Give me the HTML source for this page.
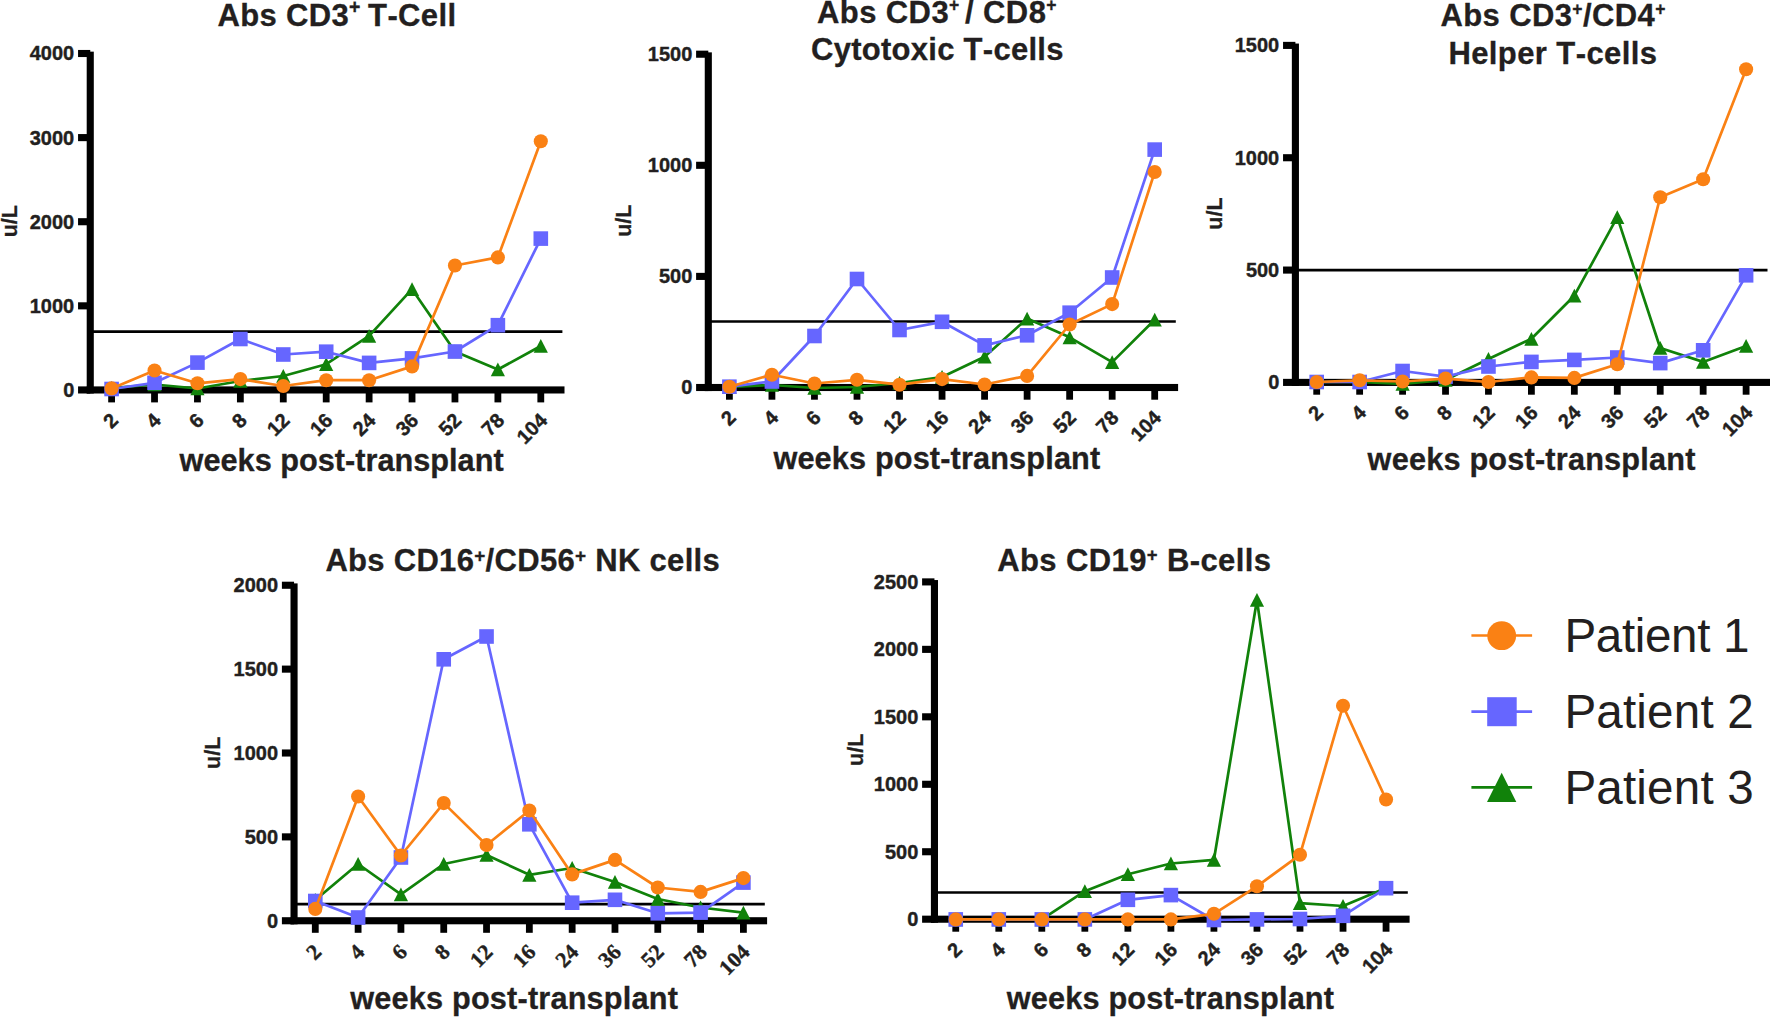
<!DOCTYPE html>
<html lang="en"><head><meta charset="utf-8"><title>Lymphocyte subsets post-transplant</title>
<style>html,body{margin:0;padding:0;background:#fff}svg{display:block}text{font-family:"Liberation Sans",sans-serif;font-kerning:none}.sf text{font-family:"Liberation Serif",serif}</style>
</head><body>
<svg width="1770" height="1017" viewBox="0 0 1770 1017">
<rect width="1770" height="1017" fill="#fff"/>
<g fill="#000">
<rect x="86.7" y="51.65" width="7.1" height="341.85"/>
<rect x="86.7" y="386.4" width="477.8" height="7.1"/>
<rect x="78.05" y="386.4" width="12.2" height="7.1"/>
<rect x="78.05" y="302.29" width="12.2" height="7.1"/>
<rect x="78.05" y="218.17" width="12.2" height="7.1"/>
<rect x="78.05" y="134.06" width="12.2" height="7.1"/>
<rect x="78.05" y="49.95" width="12.2" height="7.1"/>
<rect x="108.2" y="389.95" width="6.8" height="12.45"/>
<rect x="151.12" y="389.95" width="6.8" height="12.45"/>
<rect x="194.04" y="389.95" width="6.8" height="12.45"/>
<rect x="236.96" y="389.95" width="6.8" height="12.45"/>
<rect x="279.88" y="389.95" width="6.8" height="12.45"/>
<rect x="322.8" y="389.95" width="6.8" height="12.45"/>
<rect x="365.72" y="389.95" width="6.8" height="12.45"/>
<rect x="408.64" y="389.95" width="6.8" height="12.45"/>
<rect x="451.56" y="389.95" width="6.8" height="12.45"/>
<rect x="494.48" y="389.95" width="6.8" height="12.45"/>
<rect x="537.4" y="389.95" width="6.8" height="12.45"/>
</g>
<g font-size="20" font-weight="bold" text-anchor="end" fill="#231F20" stroke="#231F20" stroke-width="0.4">
<text x="74.25" y="396.85">0</text>
<text x="74.25" y="312.74">1000</text>
<text x="74.25" y="228.62">2000</text>
<text x="74.25" y="144.51">3000</text>
<text x="74.25" y="60.4">4000</text>
</g>
<g font-size="20" font-weight="bold" text-anchor="end" fill="#231F20" stroke="#231F20" stroke-width="0.4">
<text transform="translate(119.3 421.6) rotate(-45)">2</text>
<text transform="translate(162.22 421.6) rotate(-45)">4</text>
<text transform="translate(205.14 421.6) rotate(-45)">6</text>
<text transform="translate(248.06 421.6) rotate(-45)">8</text>
<text transform="translate(290.98 421.6) rotate(-45)">12</text>
<text transform="translate(333.9 421.6) rotate(-45)">16</text>
<text transform="translate(376.82 421.6) rotate(-45)">24</text>
<text transform="translate(419.74 421.6) rotate(-45)">36</text>
<text transform="translate(462.66 421.6) rotate(-45)">52</text>
<text transform="translate(505.58 421.6) rotate(-45)">78</text>
<text transform="translate(548.5 421.6) rotate(-45)">104</text>
</g>
<text transform="translate(16.7 221.2) rotate(-90)" font-size="21.5" font-weight="bold" text-anchor="middle" fill="#231F20" stroke="#231F20" stroke-width="0.3">u/L</text>
<g>
<line x1="90.25" y1="331.6" x2="562.4" y2="331.6" stroke="#000" stroke-width="2.7"/>
<polyline points="111.6,388 154.52,384.5 197.44,388.5 240.36,381 283.28,376 326.2,364.2 369.12,335.9 412.04,289.2 454.96,351.5 497.88,369.5 540.8,346" fill="none" stroke="#11820A" stroke-width="2.7" stroke-linejoin="round"/>
<polygon points="111.6,381.1 104.5,394.85 118.7,394.85" fill="#11820A"/>
<polygon points="154.52,377.6 147.42,391.35 161.62,391.35" fill="#11820A"/>
<polygon points="197.44,381.6 190.34,395.35 204.54,395.35" fill="#11820A"/>
<polygon points="240.36,374.1 233.26,387.85 247.46,387.85" fill="#11820A"/>
<polygon points="283.28,369.1 276.18,382.85 290.38,382.85" fill="#11820A"/>
<polygon points="326.2,357.3 319.1,371.05 333.3,371.05" fill="#11820A"/>
<polygon points="369.12,329 362.02,342.75 376.22,342.75" fill="#11820A"/>
<polygon points="412.04,282.3 404.94,296.05 419.14,296.05" fill="#11820A"/>
<polygon points="454.96,344.6 447.86,358.35 462.06,358.35" fill="#11820A"/>
<polygon points="497.88,362.6 490.78,376.35 504.98,376.35" fill="#11820A"/>
<polygon points="540.8,339.1 533.7,352.85 547.9,352.85" fill="#11820A"/>
<polyline points="111.6,389 154.52,382.8 197.44,362.6 240.36,339 283.28,354.5 326.2,351.7 369.12,362.9 412.04,358.4 454.96,351.5 497.88,325.2 540.8,238.6" fill="none" stroke="#6666FF" stroke-width="2.7" stroke-linejoin="round"/>
<rect x="104.3" y="381.7" width="14.6" height="14.6" fill="#6666FF"/>
<rect x="147.22" y="375.5" width="14.6" height="14.6" fill="#6666FF"/>
<rect x="190.14" y="355.3" width="14.6" height="14.6" fill="#6666FF"/>
<rect x="233.06" y="331.7" width="14.6" height="14.6" fill="#6666FF"/>
<rect x="275.98" y="347.2" width="14.6" height="14.6" fill="#6666FF"/>
<rect x="318.9" y="344.4" width="14.6" height="14.6" fill="#6666FF"/>
<rect x="361.82" y="355.6" width="14.6" height="14.6" fill="#6666FF"/>
<rect x="404.74" y="351.1" width="14.6" height="14.6" fill="#6666FF"/>
<rect x="447.66" y="344.2" width="14.6" height="14.6" fill="#6666FF"/>
<rect x="490.58" y="317.9" width="14.6" height="14.6" fill="#6666FF"/>
<rect x="533.5" y="231.3" width="14.6" height="14.6" fill="#6666FF"/>
<polyline points="111.6,388.4 154.52,370.5 197.44,383.3 240.36,379.1 283.28,386 326.2,380.2 369.12,380.2 412.04,366.4 454.96,265.5 497.88,257.4 540.8,141.3" fill="none" stroke="#FA8114" stroke-width="2.7" stroke-linejoin="round"/>
<circle cx="111.6" cy="388.4" r="7.05" fill="#FA8114"/>
<circle cx="154.52" cy="370.5" r="7.05" fill="#FA8114"/>
<circle cx="197.44" cy="383.3" r="7.05" fill="#FA8114"/>
<circle cx="240.36" cy="379.1" r="7.05" fill="#FA8114"/>
<circle cx="283.28" cy="386" r="7.05" fill="#FA8114"/>
<circle cx="326.2" cy="380.2" r="7.05" fill="#FA8114"/>
<circle cx="369.12" cy="380.2" r="7.05" fill="#FA8114"/>
<circle cx="412.04" cy="366.4" r="7.05" fill="#FA8114"/>
<circle cx="454.96" cy="265.5" r="7.05" fill="#FA8114"/>
<circle cx="497.88" cy="257.4" r="7.05" fill="#FA8114"/>
<circle cx="540.8" cy="141.3" r="7.05" fill="#FA8114"/>
</g>
<g fill="#000">
<rect x="704.75" y="52.35" width="7.1" height="338.7"/>
<rect x="704.75" y="383.95" width="473.35" height="7.1"/>
<rect x="696.1" y="383.95" width="12.2" height="7.1"/>
<rect x="696.1" y="272.85" width="12.2" height="7.1"/>
<rect x="696.1" y="161.75" width="12.2" height="7.1"/>
<rect x="696.1" y="50.65" width="12.2" height="7.1"/>
<rect x="726" y="387.5" width="6.8" height="12.2"/>
<rect x="768.53" y="387.5" width="6.8" height="12.2"/>
<rect x="811.06" y="387.5" width="6.8" height="12.2"/>
<rect x="853.59" y="387.5" width="6.8" height="12.2"/>
<rect x="896.12" y="387.5" width="6.8" height="12.2"/>
<rect x="938.65" y="387.5" width="6.8" height="12.2"/>
<rect x="981.18" y="387.5" width="6.8" height="12.2"/>
<rect x="1023.71" y="387.5" width="6.8" height="12.2"/>
<rect x="1066.24" y="387.5" width="6.8" height="12.2"/>
<rect x="1108.77" y="387.5" width="6.8" height="12.2"/>
<rect x="1151.3" y="387.5" width="6.8" height="12.2"/>
</g>
<g font-size="20" font-weight="bold" text-anchor="end" fill="#231F20" stroke="#231F20" stroke-width="0.4">
<text x="692.3" y="394.4">0</text>
<text x="692.3" y="283.3">500</text>
<text x="692.3" y="172.2">1000</text>
<text x="692.3" y="61.1">1500</text>
</g>
<g font-size="20" font-weight="bold" text-anchor="end" fill="#231F20" stroke="#231F20" stroke-width="0.4">
<text transform="translate(737.1 418.9) rotate(-45)">2</text>
<text transform="translate(779.63 418.9) rotate(-45)">4</text>
<text transform="translate(822.16 418.9) rotate(-45)">6</text>
<text transform="translate(864.69 418.9) rotate(-45)">8</text>
<text transform="translate(907.22 418.9) rotate(-45)">12</text>
<text transform="translate(949.75 418.9) rotate(-45)">16</text>
<text transform="translate(992.28 418.9) rotate(-45)">24</text>
<text transform="translate(1034.81 418.9) rotate(-45)">36</text>
<text transform="translate(1077.34 418.9) rotate(-45)">52</text>
<text transform="translate(1119.87 418.9) rotate(-45)">78</text>
<text transform="translate(1162.4 418.9) rotate(-45)">104</text>
</g>
<text transform="translate(631.1 220.7) rotate(-90)" font-size="21.5" font-weight="bold" text-anchor="middle" fill="#231F20" stroke="#231F20" stroke-width="0.3">u/L</text>
<g>
<line x1="708.3" y1="321.5" x2="1175.8" y2="321.5" stroke="#000" stroke-width="2.7"/>
<polyline points="729.4,387 771.93,385 814.46,388 856.99,387 899.52,383 942.05,377 984.58,356.7 1027.11,318.6 1069.64,337.3 1112.17,362.1 1154.7,319.7" fill="none" stroke="#11820A" stroke-width="2.7" stroke-linejoin="round"/>
<polygon points="729.4,380.1 722.3,393.85 736.5,393.85" fill="#11820A"/>
<polygon points="771.93,378.1 764.83,391.85 779.03,391.85" fill="#11820A"/>
<polygon points="814.46,381.1 807.36,394.85 821.56,394.85" fill="#11820A"/>
<polygon points="856.99,380.1 849.89,393.85 864.09,393.85" fill="#11820A"/>
<polygon points="899.52,376.1 892.42,389.85 906.62,389.85" fill="#11820A"/>
<polygon points="942.05,370.1 934.95,383.85 949.15,383.85" fill="#11820A"/>
<polygon points="984.58,349.8 977.48,363.55 991.68,363.55" fill="#11820A"/>
<polygon points="1027.11,311.7 1020.01,325.45 1034.21,325.45" fill="#11820A"/>
<polygon points="1069.64,330.4 1062.54,344.15 1076.74,344.15" fill="#11820A"/>
<polygon points="1112.17,355.2 1105.07,368.95 1119.27,368.95" fill="#11820A"/>
<polygon points="1154.7,312.8 1147.6,326.55 1161.8,326.55" fill="#11820A"/>
<polyline points="729.4,386.7 771.93,381.5 814.46,336 856.99,279 899.52,330 942.05,321.8 984.58,345.4 1027.11,335.3 1069.64,312.7 1112.17,277.5 1154.7,149.6" fill="none" stroke="#6666FF" stroke-width="2.7" stroke-linejoin="round"/>
<rect x="722.1" y="379.4" width="14.6" height="14.6" fill="#6666FF"/>
<rect x="764.63" y="374.2" width="14.6" height="14.6" fill="#6666FF"/>
<rect x="807.16" y="328.7" width="14.6" height="14.6" fill="#6666FF"/>
<rect x="849.69" y="271.7" width="14.6" height="14.6" fill="#6666FF"/>
<rect x="892.22" y="322.7" width="14.6" height="14.6" fill="#6666FF"/>
<rect x="934.75" y="314.5" width="14.6" height="14.6" fill="#6666FF"/>
<rect x="977.28" y="338.1" width="14.6" height="14.6" fill="#6666FF"/>
<rect x="1019.81" y="328" width="14.6" height="14.6" fill="#6666FF"/>
<rect x="1062.34" y="305.4" width="14.6" height="14.6" fill="#6666FF"/>
<rect x="1104.87" y="270.2" width="14.6" height="14.6" fill="#6666FF"/>
<rect x="1147.4" y="142.3" width="14.6" height="14.6" fill="#6666FF"/>
<polyline points="729.4,386.7 771.93,374.7 814.46,383.5 856.99,379.8 899.52,384.7 942.05,379.1 984.58,384.5 1027.11,375.9 1069.64,324.5 1112.17,304.1 1154.7,172" fill="none" stroke="#FA8114" stroke-width="2.7" stroke-linejoin="round"/>
<circle cx="729.4" cy="386.7" r="7.05" fill="#FA8114"/>
<circle cx="771.93" cy="374.7" r="7.05" fill="#FA8114"/>
<circle cx="814.46" cy="383.5" r="7.05" fill="#FA8114"/>
<circle cx="856.99" cy="379.8" r="7.05" fill="#FA8114"/>
<circle cx="899.52" cy="384.7" r="7.05" fill="#FA8114"/>
<circle cx="942.05" cy="379.1" r="7.05" fill="#FA8114"/>
<circle cx="984.58" cy="384.5" r="7.05" fill="#FA8114"/>
<circle cx="1027.11" cy="375.9" r="7.05" fill="#FA8114"/>
<circle cx="1069.64" cy="324.5" r="7.05" fill="#FA8114"/>
<circle cx="1112.17" cy="304.1" r="7.05" fill="#FA8114"/>
<circle cx="1154.7" cy="172" r="7.05" fill="#FA8114"/>
</g>
<g fill="#000">
<rect x="1291.85" y="43.55" width="7.1" height="342.4"/>
<rect x="1291.85" y="378.85" width="480.15" height="7.1"/>
<rect x="1283.05" y="378.85" width="12.35" height="7.1"/>
<rect x="1283.05" y="266.52" width="12.35" height="7.1"/>
<rect x="1283.05" y="154.18" width="12.35" height="7.1"/>
<rect x="1283.05" y="41.85" width="12.35" height="7.1"/>
<rect x="1313.3" y="382.4" width="6.8" height="12.3"/>
<rect x="1356.24" y="382.4" width="6.8" height="12.3"/>
<rect x="1399.18" y="382.4" width="6.8" height="12.3"/>
<rect x="1442.12" y="382.4" width="6.8" height="12.3"/>
<rect x="1485.06" y="382.4" width="6.8" height="12.3"/>
<rect x="1528" y="382.4" width="6.8" height="12.3"/>
<rect x="1570.94" y="382.4" width="6.8" height="12.3"/>
<rect x="1613.88" y="382.4" width="6.8" height="12.3"/>
<rect x="1656.82" y="382.4" width="6.8" height="12.3"/>
<rect x="1699.76" y="382.4" width="6.8" height="12.3"/>
<rect x="1742.7" y="382.4" width="6.8" height="12.3"/>
</g>
<g font-size="20" font-weight="bold" text-anchor="end" fill="#231F20" stroke="#231F20" stroke-width="0.4">
<text x="1279.25" y="389.3">0</text>
<text x="1279.25" y="276.97">500</text>
<text x="1279.25" y="164.63">1000</text>
<text x="1279.25" y="52.3">1500</text>
</g>
<g font-size="20" font-weight="bold" text-anchor="end" fill="#231F20" stroke="#231F20" stroke-width="0.4">
<text transform="translate(1324.4 413.9) rotate(-45)">2</text>
<text transform="translate(1367.34 413.9) rotate(-45)">4</text>
<text transform="translate(1410.28 413.9) rotate(-45)">6</text>
<text transform="translate(1453.22 413.9) rotate(-45)">8</text>
<text transform="translate(1496.16 413.9) rotate(-45)">12</text>
<text transform="translate(1539.1 413.9) rotate(-45)">16</text>
<text transform="translate(1582.04 413.9) rotate(-45)">24</text>
<text transform="translate(1624.98 413.9) rotate(-45)">36</text>
<text transform="translate(1667.92 413.9) rotate(-45)">52</text>
<text transform="translate(1710.86 413.9) rotate(-45)">78</text>
<text transform="translate(1753.8 413.9) rotate(-45)">104</text>
</g>
<text transform="translate(1221.8 213.6) rotate(-90)" font-size="21.5" font-weight="bold" text-anchor="middle" fill="#231F20" stroke="#231F20" stroke-width="0.3">u/L</text>
<g>
<line x1="1295.4" y1="270.2" x2="1767.5" y2="270.2" stroke="#000" stroke-width="2.7"/>
<polyline points="1316.7,382 1359.64,382 1402.58,384 1445.52,380 1488.46,359 1531.4,338.8 1574.34,295.7 1617.28,217.2 1660.22,348 1703.16,361.9 1746.1,345.9" fill="none" stroke="#11820A" stroke-width="2.7" stroke-linejoin="round"/>
<polygon points="1316.7,375.1 1309.6,388.85 1323.8,388.85" fill="#11820A"/>
<polygon points="1359.64,375.1 1352.54,388.85 1366.74,388.85" fill="#11820A"/>
<polygon points="1402.58,377.1 1395.48,390.85 1409.68,390.85" fill="#11820A"/>
<polygon points="1445.52,373.1 1438.42,386.85 1452.62,386.85" fill="#11820A"/>
<polygon points="1488.46,352.1 1481.36,365.85 1495.56,365.85" fill="#11820A"/>
<polygon points="1531.4,331.9 1524.3,345.65 1538.5,345.65" fill="#11820A"/>
<polygon points="1574.34,288.8 1567.24,302.55 1581.44,302.55" fill="#11820A"/>
<polygon points="1617.28,210.3 1610.18,224.05 1624.38,224.05" fill="#11820A"/>
<polygon points="1660.22,341.1 1653.12,354.85 1667.32,354.85" fill="#11820A"/>
<polygon points="1703.16,355 1696.06,368.75 1710.26,368.75" fill="#11820A"/>
<polygon points="1746.1,339 1739,352.75 1753.2,352.75" fill="#11820A"/>
<polyline points="1316.7,382 1359.64,382 1402.58,371 1445.52,376.6 1488.46,366.5 1531.4,361.9 1574.34,359.9 1617.28,357.5 1660.22,363.1 1703.16,350.3 1746.1,275.3" fill="none" stroke="#6666FF" stroke-width="2.7" stroke-linejoin="round"/>
<rect x="1309.4" y="374.7" width="14.6" height="14.6" fill="#6666FF"/>
<rect x="1352.34" y="374.7" width="14.6" height="14.6" fill="#6666FF"/>
<rect x="1395.28" y="363.7" width="14.6" height="14.6" fill="#6666FF"/>
<rect x="1438.22" y="369.3" width="14.6" height="14.6" fill="#6666FF"/>
<rect x="1481.16" y="359.2" width="14.6" height="14.6" fill="#6666FF"/>
<rect x="1524.1" y="354.6" width="14.6" height="14.6" fill="#6666FF"/>
<rect x="1567.04" y="352.6" width="14.6" height="14.6" fill="#6666FF"/>
<rect x="1609.98" y="350.2" width="14.6" height="14.6" fill="#6666FF"/>
<rect x="1652.92" y="355.8" width="14.6" height="14.6" fill="#6666FF"/>
<rect x="1695.86" y="343" width="14.6" height="14.6" fill="#6666FF"/>
<rect x="1738.8" y="268" width="14.6" height="14.6" fill="#6666FF"/>
<polyline points="1316.7,382 1359.64,380.3 1402.58,381.5 1445.52,378.6 1488.46,382 1531.4,377.4 1574.34,377.9 1617.28,364.3 1660.22,197.2 1703.16,179.3 1746.1,69.3" fill="none" stroke="#FA8114" stroke-width="2.7" stroke-linejoin="round"/>
<circle cx="1316.7" cy="382" r="7.05" fill="#FA8114"/>
<circle cx="1359.64" cy="380.3" r="7.05" fill="#FA8114"/>
<circle cx="1402.58" cy="381.5" r="7.05" fill="#FA8114"/>
<circle cx="1445.52" cy="378.6" r="7.05" fill="#FA8114"/>
<circle cx="1488.46" cy="382" r="7.05" fill="#FA8114"/>
<circle cx="1531.4" cy="377.4" r="7.05" fill="#FA8114"/>
<circle cx="1574.34" cy="377.9" r="7.05" fill="#FA8114"/>
<circle cx="1617.28" cy="364.3" r="7.05" fill="#FA8114"/>
<circle cx="1660.22" cy="197.2" r="7.05" fill="#FA8114"/>
<circle cx="1703.16" cy="179.3" r="7.05" fill="#FA8114"/>
<circle cx="1746.1" cy="69.3" r="7.05" fill="#FA8114"/>
</g>
<g fill="#000">
<rect x="290.5" y="583.4" width="7.1" height="340.9"/>
<rect x="290.5" y="917.2" width="476.6" height="7.1"/>
<rect x="281.9" y="917.2" width="12.15" height="7.1"/>
<rect x="281.9" y="833.33" width="12.15" height="7.1"/>
<rect x="281.9" y="749.45" width="12.15" height="7.1"/>
<rect x="281.9" y="665.58" width="12.15" height="7.1"/>
<rect x="281.9" y="581.7" width="12.15" height="7.1"/>
<rect x="311.9" y="920.75" width="6.8" height="12.05"/>
<rect x="354.71" y="920.75" width="6.8" height="12.05"/>
<rect x="397.52" y="920.75" width="6.8" height="12.05"/>
<rect x="440.33" y="920.75" width="6.8" height="12.05"/>
<rect x="483.14" y="920.75" width="6.8" height="12.05"/>
<rect x="525.95" y="920.75" width="6.8" height="12.05"/>
<rect x="568.76" y="920.75" width="6.8" height="12.05"/>
<rect x="611.57" y="920.75" width="6.8" height="12.05"/>
<rect x="654.38" y="920.75" width="6.8" height="12.05"/>
<rect x="697.19" y="920.75" width="6.8" height="12.05"/>
<rect x="740" y="920.75" width="6.8" height="12.05"/>
</g>
<g font-size="20" font-weight="bold" text-anchor="end" fill="#231F20" stroke="#231F20" stroke-width="0.4">
<text x="278.1" y="927.65">0</text>
<text x="278.1" y="843.77">500</text>
<text x="278.1" y="759.9">1000</text>
<text x="278.1" y="676.02">1500</text>
<text x="278.1" y="592.15">2000</text>
</g>
<g font-size="21.8" font-weight="bold" text-anchor="end" fill="#231F20" class="sf" stroke="#231F20" stroke-width="0.4">
<text transform="translate(322.8 953.3) rotate(-45)">2</text>
<text transform="translate(365.61 953.3) rotate(-45)">4</text>
<text transform="translate(408.42 953.3) rotate(-45)">6</text>
<text transform="translate(451.23 953.3) rotate(-45)">8</text>
<text transform="translate(494.04 953.3) rotate(-45)">12</text>
<text transform="translate(536.85 953.3) rotate(-45)">16</text>
<text transform="translate(579.66 953.3) rotate(-45)">24</text>
<text transform="translate(622.47 953.3) rotate(-45)">36</text>
<text transform="translate(665.28 953.3) rotate(-45)">52</text>
<text transform="translate(708.09 953.3) rotate(-45)">78</text>
<text transform="translate(750.9 953.3) rotate(-45)">104</text>
</g>
<text transform="translate(219.9 752.8) rotate(-90)" font-size="21.5" font-weight="bold" text-anchor="middle" fill="#231F20" stroke="#231F20" stroke-width="0.3">u/L</text>
<g>
<line x1="294.05" y1="904.2" x2="764.8" y2="904.2" stroke="#000" stroke-width="2.7"/>
<polyline points="315.3,900 358.11,864 400.92,894.3 443.73,864 486.54,855 529.35,874.8 572.16,868 614.97,882 657.78,899 700.59,907.5 743.4,912.7" fill="none" stroke="#11820A" stroke-width="2.7" stroke-linejoin="round"/>
<polygon points="315.3,893.1 308.2,906.85 322.4,906.85" fill="#11820A"/>
<polygon points="358.11,857.1 351.01,870.85 365.21,870.85" fill="#11820A"/>
<polygon points="400.92,887.4 393.82,901.15 408.02,901.15" fill="#11820A"/>
<polygon points="443.73,857.1 436.63,870.85 450.83,870.85" fill="#11820A"/>
<polygon points="486.54,848.1 479.44,861.85 493.64,861.85" fill="#11820A"/>
<polygon points="529.35,867.9 522.25,881.65 536.45,881.65" fill="#11820A"/>
<polygon points="572.16,861.1 565.06,874.85 579.26,874.85" fill="#11820A"/>
<polygon points="614.97,875.1 607.87,888.85 622.07,888.85" fill="#11820A"/>
<polygon points="657.78,892.1 650.68,905.85 664.88,905.85" fill="#11820A"/>
<polygon points="700.59,900.6 693.49,914.35 707.69,914.35" fill="#11820A"/>
<polygon points="743.4,905.8 736.3,919.55 750.5,919.55" fill="#11820A"/>
<polyline points="315.3,901 358.11,917.5 400.92,857.5 443.73,659.3 486.54,636.5 529.35,824.3 572.16,902.7 614.97,899.8 657.78,913.3 700.59,912.6 743.4,882.6" fill="none" stroke="#6666FF" stroke-width="2.7" stroke-linejoin="round"/>
<rect x="308" y="893.7" width="14.6" height="14.6" fill="#6666FF"/>
<rect x="350.81" y="910.2" width="14.6" height="14.6" fill="#6666FF"/>
<rect x="393.62" y="850.2" width="14.6" height="14.6" fill="#6666FF"/>
<rect x="436.43" y="652" width="14.6" height="14.6" fill="#6666FF"/>
<rect x="479.24" y="629.2" width="14.6" height="14.6" fill="#6666FF"/>
<rect x="522.05" y="817" width="14.6" height="14.6" fill="#6666FF"/>
<rect x="564.86" y="895.4" width="14.6" height="14.6" fill="#6666FF"/>
<rect x="607.67" y="892.5" width="14.6" height="14.6" fill="#6666FF"/>
<rect x="650.48" y="906" width="14.6" height="14.6" fill="#6666FF"/>
<rect x="693.29" y="905.3" width="14.6" height="14.6" fill="#6666FF"/>
<rect x="736.1" y="875.3" width="14.6" height="14.6" fill="#6666FF"/>
<polyline points="315.3,908.9 358.11,796.5 400.92,855.5 443.73,803.1 486.54,845 529.35,810.5 572.16,874.4 614.97,859.9 657.78,887.5 700.59,891.9 743.4,878.1" fill="none" stroke="#FA8114" stroke-width="2.7" stroke-linejoin="round"/>
<circle cx="315.3" cy="908.9" r="7.05" fill="#FA8114"/>
<circle cx="358.11" cy="796.5" r="7.05" fill="#FA8114"/>
<circle cx="400.92" cy="855.5" r="7.05" fill="#FA8114"/>
<circle cx="443.73" cy="803.1" r="7.05" fill="#FA8114"/>
<circle cx="486.54" cy="845" r="7.05" fill="#FA8114"/>
<circle cx="529.35" cy="810.5" r="7.05" fill="#FA8114"/>
<circle cx="572.16" cy="874.4" r="7.05" fill="#FA8114"/>
<circle cx="614.97" cy="859.9" r="7.05" fill="#FA8114"/>
<circle cx="657.78" cy="887.5" r="7.05" fill="#FA8114"/>
<circle cx="700.59" cy="891.9" r="7.05" fill="#FA8114"/>
<circle cx="743.4" cy="878.1" r="7.05" fill="#FA8114"/>
</g>
<g fill="#000">
<rect x="930.9" y="580.05" width="7.1" height="342.7"/>
<rect x="930.9" y="915.65" width="478.7" height="7.1"/>
<rect x="922.1" y="915.65" width="12.35" height="7.1"/>
<rect x="922.1" y="848.19" width="12.35" height="7.1"/>
<rect x="922.1" y="780.73" width="12.35" height="7.1"/>
<rect x="922.1" y="713.27" width="12.35" height="7.1"/>
<rect x="922.1" y="645.81" width="12.35" height="7.1"/>
<rect x="922.1" y="578.35" width="12.35" height="7.1"/>
<rect x="952.35" y="919.2" width="6.8" height="12.5"/>
<rect x="995.38" y="919.2" width="6.8" height="12.5"/>
<rect x="1038.41" y="919.2" width="6.8" height="12.5"/>
<rect x="1081.44" y="919.2" width="6.8" height="12.5"/>
<rect x="1124.47" y="919.2" width="6.8" height="12.5"/>
<rect x="1167.5" y="919.2" width="6.8" height="12.5"/>
<rect x="1210.53" y="919.2" width="6.8" height="12.5"/>
<rect x="1253.56" y="919.2" width="6.8" height="12.5"/>
<rect x="1296.59" y="919.2" width="6.8" height="12.5"/>
<rect x="1339.62" y="919.2" width="6.8" height="12.5"/>
<rect x="1382.65" y="919.2" width="6.8" height="12.5"/>
</g>
<g font-size="20" font-weight="bold" text-anchor="end" fill="#231F20" stroke="#231F20" stroke-width="0.4">
<text x="918.3" y="926.1">0</text>
<text x="918.3" y="858.64">500</text>
<text x="918.3" y="791.18">1000</text>
<text x="918.3" y="723.72">1500</text>
<text x="918.3" y="656.26">2000</text>
<text x="918.3" y="588.8">2500</text>
</g>
<g font-size="20" font-weight="bold" text-anchor="end" fill="#231F20" stroke="#231F20" stroke-width="0.4">
<text transform="translate(963.45 950.9) rotate(-45)">2</text>
<text transform="translate(1006.48 950.9) rotate(-45)">4</text>
<text transform="translate(1049.51 950.9) rotate(-45)">6</text>
<text transform="translate(1092.54 950.9) rotate(-45)">8</text>
<text transform="translate(1135.57 950.9) rotate(-45)">12</text>
<text transform="translate(1178.6 950.9) rotate(-45)">16</text>
<text transform="translate(1221.63 950.9) rotate(-45)">24</text>
<text transform="translate(1264.66 950.9) rotate(-45)">36</text>
<text transform="translate(1307.69 950.9) rotate(-45)">52</text>
<text transform="translate(1350.72 950.9) rotate(-45)">78</text>
<text transform="translate(1393.75 950.9) rotate(-45)">104</text>
</g>
<text transform="translate(862.9 749.8) rotate(-90)" font-size="21.5" font-weight="bold" text-anchor="middle" fill="#231F20" stroke="#231F20" stroke-width="0.3">u/L</text>
<g>
<line x1="934.45" y1="892.5" x2="1407.8" y2="892.5" stroke="#000" stroke-width="2.7"/>
<polyline points="955.75,919.4 998.78,919.4 1041.81,919.4 1084.84,891.2 1127.87,874.2 1170.9,863.5 1213.93,859.8 1256.96,600 1299.99,903.2 1343.02,906 1386.05,888" fill="none" stroke="#11820A" stroke-width="2.7" stroke-linejoin="round"/>
<polygon points="955.75,912.5 948.65,926.25 962.85,926.25" fill="#11820A"/>
<polygon points="998.78,912.5 991.68,926.25 1005.88,926.25" fill="#11820A"/>
<polygon points="1041.81,912.5 1034.71,926.25 1048.91,926.25" fill="#11820A"/>
<polygon points="1084.84,884.3 1077.74,898.05 1091.94,898.05" fill="#11820A"/>
<polygon points="1127.87,867.3 1120.77,881.05 1134.97,881.05" fill="#11820A"/>
<polygon points="1170.9,856.6 1163.8,870.35 1178,870.35" fill="#11820A"/>
<polygon points="1213.93,852.9 1206.83,866.65 1221.03,866.65" fill="#11820A"/>
<polygon points="1256.96,593.1 1249.86,606.85 1264.06,606.85" fill="#11820A"/>
<polygon points="1299.99,896.3 1292.89,910.05 1307.09,910.05" fill="#11820A"/>
<polygon points="1343.02,899.1 1335.92,912.85 1350.12,912.85" fill="#11820A"/>
<polygon points="1386.05,881.1 1378.95,894.85 1393.15,894.85" fill="#11820A"/>
<polyline points="955.75,919.4 998.78,919.4 1041.81,919.4 1084.84,919.4 1127.87,899.8 1170.9,895.1 1213.93,920 1256.96,919.4 1299.99,919 1343.02,915.8 1386.05,888.2" fill="none" stroke="#6666FF" stroke-width="2.7" stroke-linejoin="round"/>
<rect x="948.45" y="912.1" width="14.6" height="14.6" fill="#6666FF"/>
<rect x="991.48" y="912.1" width="14.6" height="14.6" fill="#6666FF"/>
<rect x="1034.51" y="912.1" width="14.6" height="14.6" fill="#6666FF"/>
<rect x="1077.54" y="912.1" width="14.6" height="14.6" fill="#6666FF"/>
<rect x="1120.57" y="892.5" width="14.6" height="14.6" fill="#6666FF"/>
<rect x="1163.6" y="887.8" width="14.6" height="14.6" fill="#6666FF"/>
<rect x="1206.63" y="912.7" width="14.6" height="14.6" fill="#6666FF"/>
<rect x="1249.66" y="912.1" width="14.6" height="14.6" fill="#6666FF"/>
<rect x="1292.69" y="911.7" width="14.6" height="14.6" fill="#6666FF"/>
<rect x="1335.72" y="908.5" width="14.6" height="14.6" fill="#6666FF"/>
<rect x="1378.75" y="880.9" width="14.6" height="14.6" fill="#6666FF"/>
<polyline points="955.75,919.4 998.78,919.4 1041.81,919.4 1084.84,919.4 1127.87,919.4 1170.9,919.4 1213.93,913.8 1256.96,886.3 1299.99,854.8 1343.02,705.8 1386.05,799.5" fill="none" stroke="#FA8114" stroke-width="2.7" stroke-linejoin="round"/>
<circle cx="955.75" cy="919.4" r="7.05" fill="#FA8114"/>
<circle cx="998.78" cy="919.4" r="7.05" fill="#FA8114"/>
<circle cx="1041.81" cy="919.4" r="7.05" fill="#FA8114"/>
<circle cx="1084.84" cy="919.4" r="7.05" fill="#FA8114"/>
<circle cx="1127.87" cy="919.4" r="7.05" fill="#FA8114"/>
<circle cx="1170.9" cy="919.4" r="7.05" fill="#FA8114"/>
<circle cx="1213.93" cy="913.8" r="7.05" fill="#FA8114"/>
<circle cx="1256.96" cy="886.3" r="7.05" fill="#FA8114"/>
<circle cx="1299.99" cy="854.8" r="7.05" fill="#FA8114"/>
<circle cx="1343.02" cy="705.8" r="7.05" fill="#FA8114"/>
<circle cx="1386.05" cy="799.5" r="7.05" fill="#FA8114"/>
</g>
<text x="217.4" y="25.8" font-size="31" font-weight="bold" letter-spacing="0.357" fill="#231F20" stroke="#231F20" stroke-width="0.3"><tspan>Abs CD3</tspan><tspan font-size="19.5" dy="-12.1">+</tspan><tspan dy="12.1" dx="-1.7"> T-Cell</tspan></text>
<text x="817" y="22.6" font-size="31" font-weight="bold" letter-spacing="0.407" fill="#231F20" stroke="#231F20" stroke-width="0.3"><tspan>Abs CD3</tspan><tspan font-size="17.5" dy="-11.8">+</tspan><tspan dy="11.8" dx="-3.7"> / CD8</tspan><tspan font-size="17.5" dy="-11.8">+</tspan></text>
<text x="811" y="60.2" font-size="31" font-weight="bold" letter-spacing="0.275" fill="#231F20" stroke="#231F20" stroke-width="0.3"><tspan>Cytotoxic T-cells</tspan></text>
<text x="1440.4" y="25.8" font-size="31" font-weight="bold" letter-spacing="0.392" fill="#231F20" stroke="#231F20" stroke-width="0.3"><tspan>Abs CD3</tspan><tspan font-size="17.5" dy="-10.6">+</tspan><tspan dy="10.6">/CD4</tspan><tspan font-size="17.5" dy="-10.6">+</tspan></text>
<text x="1448.4" y="63.5" font-size="31" font-weight="bold" letter-spacing="0.408" fill="#231F20" stroke="#231F20" stroke-width="0.3"><tspan>Helper T-cells</tspan></text>
<text x="325.4" y="570.5" font-size="31" font-weight="bold" letter-spacing="0.296" fill="#231F20" stroke="#231F20" stroke-width="0.3"><tspan>Abs CD16</tspan><tspan font-size="19" dy="-8.7">+</tspan><tspan dy="8.7">/CD56</tspan><tspan font-size="19" dy="-8.7">+</tspan><tspan dy="8.7"> NK cells</tspan></text>
<text x="997.2" y="570.5" font-size="31" font-weight="bold" letter-spacing="0.394" fill="#231F20" stroke="#231F20" stroke-width="0.3"><tspan>Abs CD19</tspan><tspan font-size="18.5" dy="-9.7">+</tspan><tspan dy="9.7"> B-cells</tspan></text>
<text x="179.6" y="470.6" font-size="30.7" font-weight="bold" letter-spacing="0.000" fill="#231F20" stroke="#231F20" stroke-width="0.3"><tspan>weeks post-transplant</tspan></text>
<text x="773.4" y="469.2" font-size="30.7" font-weight="bold" letter-spacing="0.140" fill="#231F20" stroke="#231F20" stroke-width="0.3"><tspan>weeks post-transplant</tspan></text>
<text x="1367.6" y="470" font-size="30.7" font-weight="bold" letter-spacing="0.190" fill="#231F20" stroke="#231F20" stroke-width="0.3"><tspan>weeks post-transplant</tspan></text>
<text x="350.2" y="1009.3" font-size="30.7" font-weight="bold" letter-spacing="0.185" fill="#231F20" stroke="#231F20" stroke-width="0.3"><tspan>weeks post-transplant</tspan></text>
<text x="1006.8" y="1009.3" font-size="30.7" font-weight="bold" letter-spacing="0.160" fill="#231F20" stroke="#231F20" stroke-width="0.3"><tspan>weeks post-transplant</tspan></text>
<text x="1564.4" y="651.9" font-size="47.6" font-weight="normal" letter-spacing="-0.350" fill="#231F20"><tspan>Patient 1</tspan></text>
<text x="1564.4" y="727.6" font-size="47.6" font-weight="normal" letter-spacing="0.175" fill="#231F20"><tspan>Patient 2</tspan></text>
<text x="1564.4" y="803.6" font-size="47.6" font-weight="normal" letter-spacing="0.175" fill="#231F20"><tspan>Patient 3</tspan></text>
<g>
<line x1="1471.4" y1="635.5" x2="1532.1" y2="635.5" stroke="#FA8114" stroke-width="2.7"/>
<circle cx="1501.7" cy="635.7" r="14.4" fill="#FA8114"/>
<line x1="1471.4" y1="711.6" x2="1532.1" y2="711.6" stroke="#6666FF" stroke-width="2.7"/>
<rect x="1487.2" y="697.2" width="29.5" height="29" fill="#6666FF"/>
<line x1="1471.4" y1="787.4" x2="1532.1" y2="787.4" stroke="#11820A" stroke-width="2.7"/>
<polygon points="1501.7,772.8 1487,801.9 1516.3,801.9" fill="#11820A"/>
</g>
</svg>
</body></html>
